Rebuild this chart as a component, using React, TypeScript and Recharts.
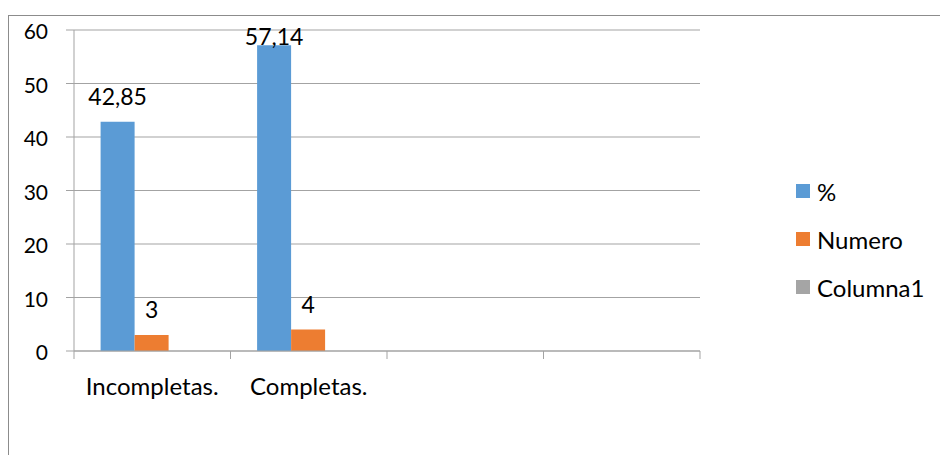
import React from 'react';
import { BarChart, Bar, XAxis, YAxis, CartesianGrid, Legend, LabelList } from 'recharts';

const categories = ['Incompletas.', 'Completas.', '', ''];
const percentValues = [42.85, 57.14, null, null];
const numeroValues = [3, 4, null, null];
const columna1Values = [null, null, null, null];
const yTicks = [0, 10, 20, 30, 40, 50, 60];

const series = [
    { key: 'pct', name: '%', color: '#5B9BD5' },
    { key: 'numero', name: 'Numero', color: '#ED7D31' },
    { key: 'columna1', name: 'Columna1', color: '#A5A5A5' },
];

const data = categories.map((name, i) => ({
    name,
    pct: percentValues[i],
    numero: numeroValues[i],
    columna1: columna1Values[i],
}));

const W = 940;
const H = 455;
const M = { top: 30, right: 240, bottom: 44, left: 14 };
const Y_W = 60;
const X_H = 60;
const PLOT_LEFT = M.left + Y_W;
const PLOT_W = W - M.right - PLOT_LEFT;
const TICK = 8;
const X_MARGIN = 19;
const FONT = 'Lato, "Open Sans", sans-serif';
const GRID = '#A3A3A3';

const fmt = (v: number) => (Number.isInteger(v) ? String(v) : v.toFixed(2).replace('.', ','));

function CategoryTick(props: any) {
    const { x, y, payload, index } = props;
    const band = PLOT_W / categories.length;
    const axisY = y - TICK - X_MARGIN;
    return (
        <g>
            <line x1={x - band / 2} x2={x - band / 2} y1={axisY} y2={axisY + TICK} stroke={GRID} />
            {index === categories.length - 1 && (
                <line x1={x + band / 2} x2={x + band / 2} y1={axisY} y2={axisY + TICK} stroke={GRID} />
            )}
            <text x={x} y={y} dy="0.71em" textAnchor="middle" fontFamily={FONT} fontSize={24} fill="#000">
                {payload.value}
            </text>
        </g>
    );
}

function ValueLabel(props: any) {
    const { x, y, width, value } = props;
    if (value == null) return null;
    const baseline = Math.max(y - 17, M.top + 15);
    return (
        <text x={x + width / 2} y={baseline} textAnchor="middle" fontFamily={FONT} fontSize={23} fill="#000">
            {fmt(value)}
        </text>
    );
}

function LegendBox() {
    return (
        <div style={{ fontFamily: FONT, fontSize: 24, color: '#000' }}>
            {series.map((s) => (
                <div key={s.key} style={{ height: 48, display: 'flex', alignItems: 'center' }}>
                    <span style={{ width: 14, height: 14, background: s.color, marginRight: 7, display: 'inline-block' }} />
                    <span>{s.name}</span>
                </div>
            ))}
        </div>
    );
}

export default function App() {
    return (
        <div style={{ position: 'absolute', left: 0, top: 0, width: W, height: H, overflow: 'hidden', background: '#fff' }}>
            <div
                style={{
                    position: 'absolute',
                    left: 8,
                    top: 15,
                    width: 1000,
                    height: 600,
                    border: '1px solid #8C8C8C',
                }}
            />
            <div style={{ position: 'absolute', left: 0, top: 0 }}>
                <BarChart width={W} height={H} data={data} margin={M} barCategoryGap="17%" barGap={0}>
                    <CartesianGrid vertical={false} stroke={GRID} />
                    <XAxis
                        dataKey="name"
                        interval={0}
                        height={X_H}
                        axisLine={{ stroke: GRID }}
                        tickLine={false}
                        tickSize={TICK}
                        tickMargin={X_MARGIN}
                        tick={<CategoryTick />}
                    />
                    <YAxis
                        width={Y_W}
                        domain={[0, 60]}
                        ticks={yTicks}
                        axisLine={{ stroke: GRID }}
                        tickLine={{ stroke: GRID }}
                        tickSize={TICK}
                        tickMargin={18}
                        tick={{ fill: '#000', fontSize: 21, fontFamily: FONT, dy: 2 }}
                    />
                    <Legend
                        layout="vertical"
                        align="center"
                        verticalAlign="middle"
                        content={<LegendBox />}
                        wrapperStyle={{ left: 796, top: 167, width: 140 }}
                    />
                    {series.map((s) => (
                        <Bar key={s.key} dataKey={s.key} name={s.name} fill={s.color} isAnimationActive={false}>
                            {s.key !== 'columna1' && <LabelList dataKey={s.key} content={<ValueLabel />} />}
                        </Bar>
                    ))}
                </BarChart>
            </div>
        </div>
    );
}
